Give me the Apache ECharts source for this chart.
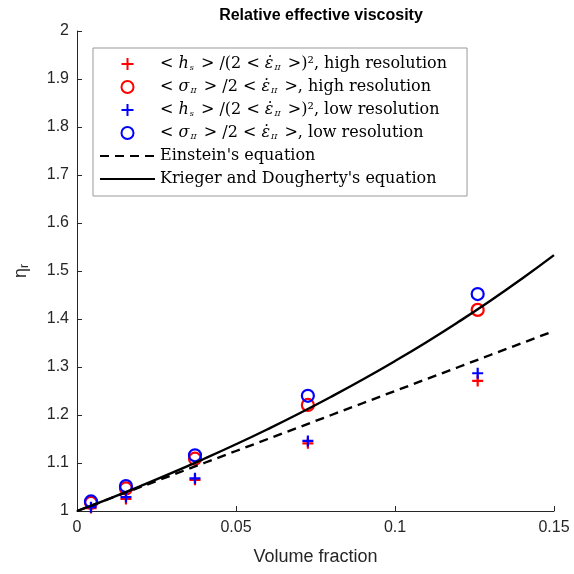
<!DOCTYPE html>
<html><head><meta charset="utf-8">
<script src="https://cdn.jsdelivr.net/npm/echarts@6/dist/echarts.min.js"></script>
<style>html,body{margin:0;padding:0;background:#fff}#c{width:574px;height:574px}</style>
</head><body><div id="c"></div>
<script>
var volFrac = [0.0044, 0.0154, 0.0371, 0.0726, 0.126];
var hsHigh = [1.006, 1.025, 1.065, 1.141, 1.271];
var sigHigh = [1.017, 1.047, 1.109, 1.221, 1.419];
var hsLow = [1.008, 1.029, 1.068, 1.146, 1.287];
var sigLow = [1.020, 1.052, 1.116, 1.240, 1.452];
var curveX = [0, 0.01, 0.02, 0.03, 0.04, 0.05, 0.06, 0.07, 0.08, 0.09, 0.10, 0.11, 0.12, 0.13, 0.14, 0.15];
var einstein = [1, 1.025, 1.05, 1.075, 1.1, 1.125, 1.15, 1.175, 1.2, 1.225, 1.25, 1.275, 1.3, 1.325, 1.35, 1.375];
var krieger = [1, 1.0255, 1.0521, 1.0798, 1.1088, 1.1390, 1.1706, 1.2036, 1.2382, 1.2744, 1.3124, 1.3522, 1.3941, 1.4380, 1.4843, 1.533];
var xTicks = [0, 0.05, 0.1, 0.15];
var yTicks = [1, 1.1, 1.2, 1.3, 1.4, 1.5, 1.6, 1.7, 1.8, 1.9, 2];
var names = ['hsHigh', 'sigHigh', 'hsLow', 'sigLow', 'Einstein', 'Krieger'];

function pair(xs, ys) { return xs.map(function (x, i) { return [x, ys[i]]; }); }
var plusPath = 'path://M0,5L10,5M5,0L5,10';
var ax = '#262626';
var serif = 'DejaVu Serif';
var sans = 'Liberation Sans';

var legendText = {
  hsHigh: '{t|< }{i|h}{sub|s}{t| > /(2 < }{i|ε̇}{sub|II}{t| >)², high resolution}',
  sigHigh: '{t|< }{i|σ}{sub|II}{t| > /2 < }{i|ε̇}{sub|II}{t| >, high resolution}',
  hsLow: '{t|< }{i|h}{sub|s}{t| > /(2 < }{i|ε̇}{sub|II}{t| >)², low resolution}',
  sigLow: '{t|< }{i|σ}{sub|II}{t| > /2 < }{i|ε̇}{sub|II}{t| >, low resolution}',
  Einstein: "{t|Einstein's equation}",
  Krieger: "{t|Krieger and Dougherty's equation}"
};

var chart = echarts.init(document.getElementById('c'), null, {renderer: 'canvas'});
chart.setOption({
  animation: false,
  backgroundColor: '#fff',
  title: {
    text: 'Relative effective viscosity', left: 316, textAlign: 'center', top: 3,
    textStyle: {fontFamily: sans, fontWeight: 'bold', fontSize: 16, color: '#000'}
  },
  grid: {left: 77, right: 20, top: 31, bottom: 63},
  legend: {
    orient: 'vertical', left: 93, top: 48,
    data: names.map(function (n, k) {
      return k < 4 ? {name: n} : {name: n, itemStyle: {opacity: 0}};
    }),
    itemWidth: 55, itemHeight: 12, itemGap: 7,
    padding: [8, 20, 9, 6],
    borderColor: '#999', borderWidth: 1, backgroundColor: '#fff',
    formatter: function (n) { return legendText[n]; },
    textStyle: {
      fontFamily: serif, fontSize: 16, color: '#000',
      rich: {
        t: {fontFamily: serif, fontSize: 16, color: '#000'},
        i: {fontFamily: serif, fontStyle: 'italic', fontSize: 16, color: '#000'},
        sub: {fontFamily: serif, fontStyle: 'italic', fontSize: 8, color: '#000', padding: [8, 2, 0, 1]}
      }
    }
  },
  xAxis: {
    type: 'value', min: 0, max: 0.15, interval: 0.05,
    name: 'Volume fraction', nameLocation: 'middle', nameGap: 37,
    nameTextStyle: {fontFamily: sans, fontSize: 18, color: ax},
    axisLine: {show: true, lineStyle: {color: ax, width: 1}},
    axisTick: {show: true, inside: true, length: 5, lineStyle: {color: ax}},
    axisLabel: {fontFamily: sans, fontSize: 16, color: ax, margin: 9,
      formatter: function (v) { return String(+v.toFixed(2)); }},
    splitLine: {show: false}
  },
  yAxis: {
    type: 'value', min: 1, max: 2, interval: 0.1,
    name: '{e|η}{s|r}', nameLocation: 'middle', nameGap: 46, nameRotate: 90,
    nameTextStyle: {rich: {
      e: {fontFamily: sans, fontSize: 18, color: ax},
      s: {fontFamily: sans, fontSize: 12, color: ax, padding: [7, 0, 0, 0]}
    }},
    axisLine: {show: true, lineStyle: {color: ax, width: 1}},
    axisTick: {show: true, inside: true, length: 5, lineStyle: {color: ax}},
    axisLabel: {fontFamily: sans, fontSize: 16, color: ax, margin: 8,
      formatter: function (v) { return String(+v.toFixed(1)); }},
    splitLine: {show: false}
  },
  series: [
    {name: 'hsHigh', type: 'scatter', data: pair(volFrac, hsHigh), symbol: plusPath, symbolSize: 11,
      itemStyle: {color: 'transparent', borderColor: '#ff0000', borderWidth: 2.2, opacity: 1}},
    {name: 'sigHigh', type: 'scatter', data: pair(volFrac, sigHigh), symbol: 'circle', symbolSize: 12,
      itemStyle: {color: 'transparent', borderColor: '#ff0000', borderWidth: 2.2, opacity: 1}},
    {name: 'hsLow', type: 'scatter', data: pair(volFrac, hsLow), symbol: plusPath, symbolSize: 11,
      itemStyle: {color: 'transparent', borderColor: '#0000ff', borderWidth: 2.2, opacity: 1}},
    {name: 'sigLow', type: 'scatter', data: pair(volFrac, sigLow), symbol: 'circle', symbolSize: 12,
      itemStyle: {color: 'transparent', borderColor: '#0000ff', borderWidth: 2.2, opacity: 1}},
    {name: 'Einstein', type: 'line', data: pair(curveX, einstein), showSymbol: false, symbol: 'none',
      lineStyle: {color: '#000', width: 2.4, type: [9, 6]}, itemStyle: {color: '#000'}},
    {name: 'Krieger', type: 'line', data: pair(curveX, krieger), showSymbol: false, symbol: 'none', smooth: true,
      lineStyle: {color: '#000', width: 2.4}, itemStyle: {color: '#000'}}
  ]
});
</script></body></html>
